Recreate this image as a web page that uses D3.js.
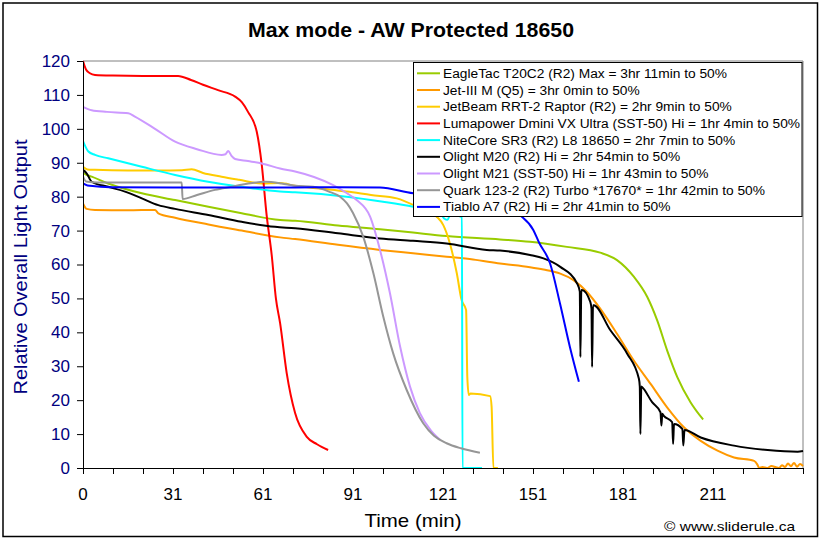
<!DOCTYPE html>
<html><head><meta charset="utf-8">
<script src="https://cdn.jsdelivr.net/npm/d3@7"></script>
<style>body{margin:0;background:#fff}svg{display:block}text{font-family:"Liberation Sans",Arial,sans-serif}</style>
</head><body><svg id="c" width="822" height="541"></svg>
<script>
const titleText = "Max mode - AW Protected 18650";
const yTitle = "Relative Overall Light Output";
const xTitle = "Time (min)";
const credit = "\u00A9 www.sliderule.ca";

const seriesNames = [
  "EagleTac T20C2 (R2) Max = 3hr 11min to 50%",
  "Jet-III M (Q5) = 3hr 0min to 50%",
  "JetBeam RRT-2 Raptor (R2) = 2hr 9min to 50%",
  "Lumapower Dmini VX Ultra (SST-50) Hi = 1hr 4min to 50%",
  "NiteCore SR3 (R2) L8 18650 = 2hr 7min to 50%",
  "Olight M20 (R2) Hi = 2hr 54min to 50%",
  "Olight M21 (SST-50) Hi = 1hr 43min to 50%",
  "Quark 123-2 (R2) Turbo *17670* = 1hr 42min to 50%",
  "Tiablo A7 (R2) Hi = 2hr 41min to 50%"
];
const seriesColors = ["#99CC00","#FF9900","#FFCC00","#FF0000","#00FFFF","#000000","#CC99FF","#969696","#0000FF"];

// [minute index, relative output]
const eagletac = [[0,87],[1,86.5],[2.9,85.9],[8.4,83.9],[19.6,81],[30.7,79],[41.8,77],[52.9,75.1],[65.7,73.1],[70.7,72.9],[85,71.5],[99,70.4],[110,69.4],[121.2,68.4],[139,67.4],[149,66.7],[161.3,65.2],[172.4,63.5],[178,61.3],[183.6,56.4],[188.1,50.4],[191.4,43.5],[194.7,34.7],[198.1,26.8],[202.5,19.4],[206.7,14.3]];
const jet3m = [[0,78],[1.2,76.4],[4,76.1],[15,76],[24,76.1],[25.1,75.1],[30.7,73.8],[41.8,71.8],[52.9,70],[65.7,68],[70.7,67.5],[85,65.8],[99,64.3],[110,63.3],[121.2,62.3],[130,61.5],[139,60.3],[149,59.2],[153.5,58.5],[159.1,57.3],[163.5,55.4],[168,51.9],[172.4,47],[178,39.6],[183.6,31.7],[189.2,24.8],[194.7,17.9],[200.3,12],[205.9,8],[211.5,5.1],[217,3.1],[223.7,2.1],[224.8,1],[225.4,0],[226.5,0.3],[228,0],[229.5,0.6],[231,0.2],[232,0],[233,0.8],[234,0.3],[235,1.3],[236,0.5],[237,1.5],[238,0.4],[239,1.2],[240,0.6]];
const jetbeam = [[0,88.8],[1.5,88],[4,87.9],[15,87.7],[25,87.7],[33,87.8],[36.2,88.1],[40,87],[46.2,85.9],[52,85],[59.6,83.9],[65.7,84],[70.7,83.2],[80,82.3],[87.9,81.5],[96,80.5],[104.6,79.5],[112.3,76.6],[117.9,74.1],[120.1,71.6],[122.3,66.2],[124.6,57.4],[126.2,49.5],[127.7,46.6],[128.1,26.9],[128.6,21.5],[129.2,22],[135.7,21.2],[136.2,18.1],[136.8,0],[138.3,0]];
const lumapower = [[0,120],[1,117.5],[2.3,116.4],[4,115.9],[10,115.7],[20,115.6],[31.7,115.6],[36,114.4],[40,113],[45,111.4],[50.7,109.5],[53,107.8],[55,105],[57.9,99.2],[59.6,89.3],[61.2,74.6],[62.9,62.8],[64.3,50],[65.7,42.7],[67.9,28],[70.7,16.2],[74.6,9.2],[78,7],[81.7,5.3]];
const nitecore = [[0,96.4],[1.8,93.3],[4,92.3],[8.4,91.3],[19.6,88.8],[30.7,86.4],[41.7,84.4],[52.9,82.9],[65.7,81.5],[70.7,81.3],[87.9,80],[100,78.5],[110.1,77],[119,75.2],[120.5,73.5],[121.5,73.2],[122.5,74.8],[126.3,74],[126.5,0],[133,0]];
const olightM20 = [[0,87.9],[1.2,86.9],[2.9,84.4],[8.4,82.9],[14,81.5],[19.6,79.5],[25.1,77.5],[30.7,76.4],[41.8,74.6],[52.9,72.6],[64,71.1],[70.7,70.7],[85,69.2],[99,67.7],[110,67],[121.2,66.2],[134.6,64.3],[139,64.1],[149,62.8],[153.5,61.8],[159.1,59.3],[164.7,54.4],[165.6,52],[165.8,32.7],[166.1,52.5],[166.3,52.5],[169.1,49],[169.5,47],[169.7,29.8],[170,48],[170.2,48],[175.8,40.6],[181.4,33.7],[185.3,26.3],[185.6,24],[185.8,10],[186.1,24],[186.4,23.8],[189.7,19.4],[192.5,16.4],[192.8,12.5],[193.1,16],[193.6,15.4],[196.4,13.5],[196.7,7.1],[197,13],[199.8,11.5],[200.1,6.6],[200.5,11.2],[205.9,9],[217,6.6],[228.2,5.3],[238.2,4.8],[240,5]];
const olightM21 = [[0,106.5],[2.9,105.5],[8,105],[15.1,104.6],[17.3,103.6],[24,100],[30.7,96.2],[38,94],[46.2,92.3],[47.5,92.5],[48.4,93.5],[49.5,92],[50.7,91.1],[55,90.5],[59.6,89.8],[65.7,88.3],[70.7,87.4],[77,85.8],[83.4,83.4],[88,81],[91.2,79],[95.7,74.1],[99,64.3],[102.3,51.6],[105.7,35.8],[109,24],[112.3,16.2],[116,11],[119,8.3]];
const quark = [[0,86],[1,84.5],[5,84.2],[20,84.2],[32.9,84.2],[33.2,79.3],[38,80.5],[44,82],[50,83],[55.1,83.9],[60.7,84.4],[66.2,83.9],[70.7,83.2],[76.7,82.9],[82,81.5],[85.7,80],[88,78],[90,75.2],[93.4,68.2],[96.8,57.4],[100.1,44.6],[103.4,33.8],[107.9,23],[113.4,13.2],[117,9.5],[121.2,7.3],[126,5.8],[132.3,4.5]];
const tiablo = [[0,83.9],[1.5,83.3],[4,83.1],[10,82.8],[30,82.7],[50,82.7],[70.7,82.7],[85,82.8],[99,82.7],[110.1,81],[125,80.3],[135,79.5],[140,77.8],[145.7,74.5],[150.1,70.2],[152,66.5],[155.7,60.3],[159,48.5],[162.3,35.7],[165.3,25.4]];

const seriesData = [eagletac, jet3m, jetbeam, lumapower, nitecore, olightM20, olightM21, quark, tiablo];

const xTickValues = [0,30,60,90,120,150,180,210];
const xTickLabels = ["0","31","61","91","121","151","181","211"];
const xMinorTicks = d3.range(0, 241, 10);
const yTickValues = d3.range(0, 121, 10);

const svg = d3.select("#c");
const L = 83, R = 803, T = 61, B = 468;
const x = d3.scaleLinear().domain([0, 240]).range([L, R]);
const y = d3.scaleLinear().domain([0, 120]).range([B, T]);

function fit(sel, w) { sel.attr("textLength", w).attr("lengthAdjust", "spacingAndGlyphs"); }

// outer border
svg.append("rect").attr("x", 3).attr("y", 3).attr("width", 814.5).attr("height", 533.5)
  .attr("fill", "#fff").attr("stroke", "#000").attr("stroke-width", 1.5);

// title
fit(svg.append("text").attr("x", 411).attr("y", 37).attr("text-anchor", "middle")
  .attr("font-size", 21).attr("font-weight", "bold").text(titleText), 326);

// plot border (top/right)
svg.append("path").attr("d", `M${L},${T}H${R}V${B}`).attr("fill", "none").attr("stroke", "#808080").attr("stroke-width", 1);

// clip
svg.append("clipPath").attr("id", "clip").append("rect").attr("x", L).attr("y", T - 2).attr("width", R - L + 1).attr("height", B - T + 3);

const line = d3.line().x(d => x(d[0])).y(d => y(d[1])).curve(d3.curveMonotoneX);
const g = svg.append("g").attr("clip-path", "url(#clip)");
seriesData.forEach((data, i) => {
  g.append("path").datum(data).attr("d", line).attr("fill", "none")
    .attr("stroke", seriesColors[i]).attr("stroke-width", 2).attr("stroke-linejoin", "round");
});

// axes
const yAxis = d3.axisLeft(y).tickValues(yTickValues).tickSize(6).tickSizeOuter(0).tickPadding(7);
const yg = svg.append("g").attr("transform", `translate(${L},0)`).call(yAxis);
yg.select(".domain").attr("stroke", "#000");
yg.selectAll(".tick line").attr("stroke", "#000");
yg.selectAll(".tick text").attr("fill", "#000080").attr("font-size", 17).attr("font-family", "Liberation Sans, Arial, sans-serif");

const xAxis = d3.axisBottom(x).tickValues(xMinorTicks).tickSize(6).tickSizeOuter(0).tickFormat("");
const xg = svg.append("g").attr("transform", `translate(0,${B})`).call(xAxis);
xg.select(".domain").attr("stroke", "#000");
xg.selectAll(".tick line").attr("stroke", "#000");
svg.append("g").selectAll("text").data(xTickValues).join("text")
  .attr("x", d => x(d)).attr("y", 500).attr("text-anchor", "middle")
  .attr("font-size", 17).attr("fill", "#000").text((d, i) => xTickLabels[i]);

// axis titles
fit(svg.append("text").attr("transform", "translate(27,267) rotate(-90)").attr("text-anchor", "middle")
  .attr("font-size", 19).attr("fill", "#000080").text(yTitle), 255);
fit(svg.append("text").attr("x", 413).attr("y", 527).attr("text-anchor", "middle")
  .attr("font-size", 19).attr("fill", "#000").text(xTitle), 97);
fit(svg.append("text").attr("x", 795).attr("y", 531).attr("text-anchor", "end")
  .attr("font-size", 13).attr("fill", "#000").text(credit), 131);

// legend
const lg = svg.append("g");
lg.append("rect").attr("x", 413.5).attr("y", 62.5).attr("width", 388.5).attr("height", 154)
  .attr("fill", "#fff").attr("stroke", "#000").attr("stroke-width", 1);
const texts = [];
seriesNames.forEach((name, i) => {
  const cy = 73.3 + i * 16.7;
  lg.append("line").attr("x1", 417).attr("x2", 440).attr("y1", cy).attr("y2", cy)
    .attr("stroke", seriesColors[i]).attr("stroke-width", 2);
  texts.push(lg.append("text").attr("x", 443).attr("y", cy).attr("dy", "0.36em")
    .attr("font-size", 12.5).attr("fill", "#000").text(name));
});
const lens = texts.map(t => t.node().getComputedTextLength());
const k = 357 / d3.max(lens);
texts.forEach((t, i) => fit(t, lens[i] * k));
</script></body></html>
